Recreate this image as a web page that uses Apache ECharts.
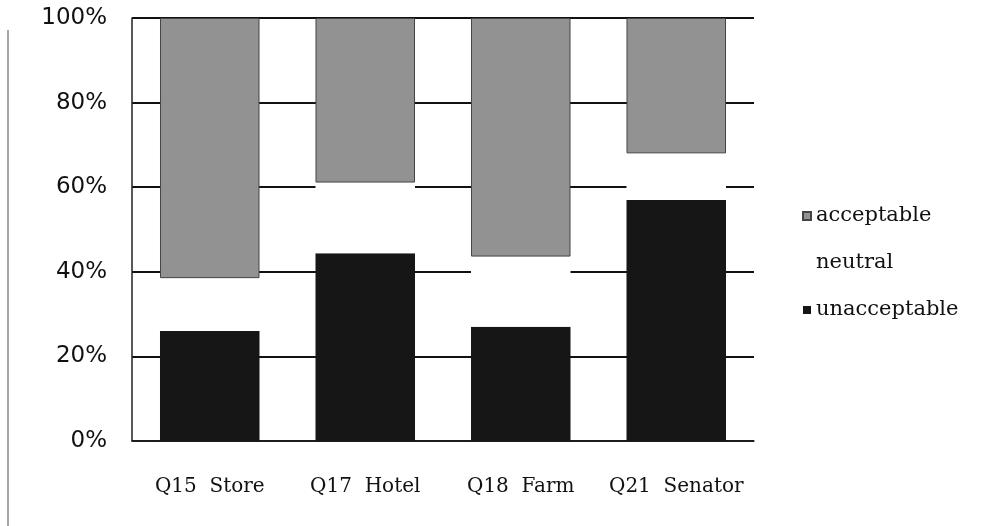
<!DOCTYPE html>
<html>
<head>
<meta charset="utf-8">
<script src="https://cdn.jsdelivr.net/npm/echarts@6/dist/echarts.min.js"></script>
<style>html,body{margin:0;padding:0;background:#fff}#c{width:992px;height:526px}</style>
</head>
<body>
<div id="c"></div>
<script>
var categories = ['Q15  Store', 'Q17  Hotel', 'Q18  Farm', 'Q21  Senator'];
var unacceptable = [26, 44.4, 27, 57];
var neutral = [12.5, 16.7, 16.6, 11];
var acceptable = [61.5, 38.9, 56.4, 32];
var yTicks = [0, 20, 40, 60, 80, 100];

var chart = echarts.init(document.getElementById('c'));
chart.setOption({
  backgroundColor: '#ffffff',
  animation: false,
  graphic: [{
    type: 'line', shape: {x1: 8, y1: 30, x2: 8, y2: 526},
    style: {stroke: '#888', lineWidth: 1.5}
  }],
  grid: {left: 132, right: 238, top: 18, bottom: 85},
  legend: {
    orient: 'vertical', left: 797, top: 200,
    data: ['acceptable', 'neutral', 'unacceptable'],
    itemWidth: 8, itemHeight: 8, itemGap: 25,
    textStyle: {fontFamily: 'DejaVu Serif', fontSize: 21, color: '#111', lineHeight: 22},
    icon: 'rect'
  },
  xAxis: {
    type: 'category', data: categories,
    axisLine: {show: true, lineStyle: {color: '#222', width: 1.5}},
    axisTick: {show: false},
    axisLabel: {interval: 0, margin: 36, fontFamily: 'DejaVu Serif', fontSize: 20, color: '#111'}
  },
  yAxis: {
    type: 'value', min: 0, max: 100, interval: 20,
    axisLine: {show: true, lineStyle: {color: '#222', width: 1.5}},
    axisTick: {show: false},
    splitLine: {show: true, lineStyle: {color: '#111', width: 2}},
    axisLabel: {
      margin: 25, fontFamily: 'DejaVu Sans', fontSize: 23, color: '#111',
      formatter: function (v) { return yTicks.indexOf(v) >= 0 ? v + '%' : ''; }
    }
  },
  series: [
    {name: 'unacceptable', type: 'bar', stack: 's', data: unacceptable, barWidth: '64%',
     itemStyle: {color: '#161616'}},
    {name: 'neutral', type: 'bar', stack: 's', data: neutral,
     itemStyle: {color: '#ffffff'}},
    {name: 'acceptable', type: 'bar', stack: 's', data: acceptable,
     itemStyle: {color: '#929292', borderColor: '#444', borderWidth: 1}}
  ]
});
</script>
</body>
</html>
